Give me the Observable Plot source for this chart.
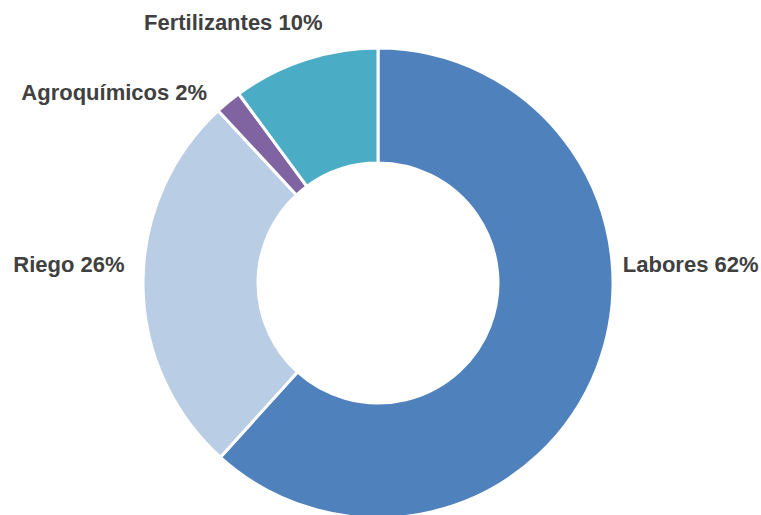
<!DOCTYPE html>
<html>
<head>
<meta charset="utf-8">
<script src="https://cdn.jsdelivr.net/npm/d3@7"></script>
<script src="https://cdn.jsdelivr.net/npm/@observablehq/plot@0.6"></script>
<style>
  html, body { margin: 0; padding: 0; background: #ffffff; overflow: hidden; }
  #chart { width: 761px; height: 515px; }
</style>
</head>
<body>
<div id="chart"></div>
<script>
// ---- data ----
const categories = ["Labores", "Riego", "Agroquímicos", "Fertilizantes"];
const shares = [61.7, 26.4, 1.8, 10.1];
const colors = ["#4f81bd", "#b9cde5", "#8064a2", "#4bacc6"];

// ---- label layout (anchor and nudge, not data) ----
const labelAnchor = ["start", "end", "end", "end"];
const labelDx = [11, -4, -12, 22];
const labelDy = [-108, -20, 2, -23];

const W = 761, H = 515;
const cx = 378, cy = 283;
const outerR = 235, innerR = 120, labelR = 250;

const rows = categories.map((c, i) => ({ category: c, share: shares[i] }));
const pie = d3.pie().sort(null).value(d => d.share)(rows);
const color = Plot.scale({ color: { type: "ordinal", domain: categories, range: colors } });

const labels = pie.map((p, i) => {
  const a = (p.startAngle + p.endAngle) / 2;
  return {
    text: `${p.data.category} ${Math.round(p.data.share)}%`,
    x: labelR * Math.sin(a) + labelDx[i],
    y: -labelR * Math.cos(a) + labelDy[i],
    anchor: labelAnchor[i]
  };
});

const arcGen = d3.arc().innerRadius(innerR).outerRadius(outerR);

function donutMark(index, scales, values, dimensions) {
  const g = d3.create("svg:g")
    .attr("transform", `translate(${scales.x(0)},${scales.y(0)})`);
  g.selectAll("path")
    .data(pie)
    .join("path")
    .attr("d", arcGen)
    .attr("fill", d => color.apply(d.data.category))
    .attr("stroke", "#ffffff")
    .attr("stroke-width", 3)
    .attr("stroke-linejoin", "round");
  return g.node();
}

const textMarks = ["start", "end"].map(anc =>
  Plot.text(labels.filter(d => d.anchor === anc), {
    x: "x", y: "y", text: "text",
    textAnchor: anc,
    fill: "#404040",
    fontSize: 22,
    fontWeight: "bold",
    lineAnchor: "middle"
  })
);

const chart = Plot.plot({
  width: W,
  height: H,
  margin: 0,
  style: { fontFamily: "'Liberation Sans', Arial, sans-serif", background: "#ffffff", overflow: "visible" },
  x: { domain: [-cx, W - cx], range: [0, W], axis: null },
  y: { domain: [-cy, H - cy], range: [0, H], axis: null },
  marks: [
    donutMark,
    ...textMarks
  ]
});

document.getElementById("chart").appendChild(chart);
</script>
</body>
</html>
